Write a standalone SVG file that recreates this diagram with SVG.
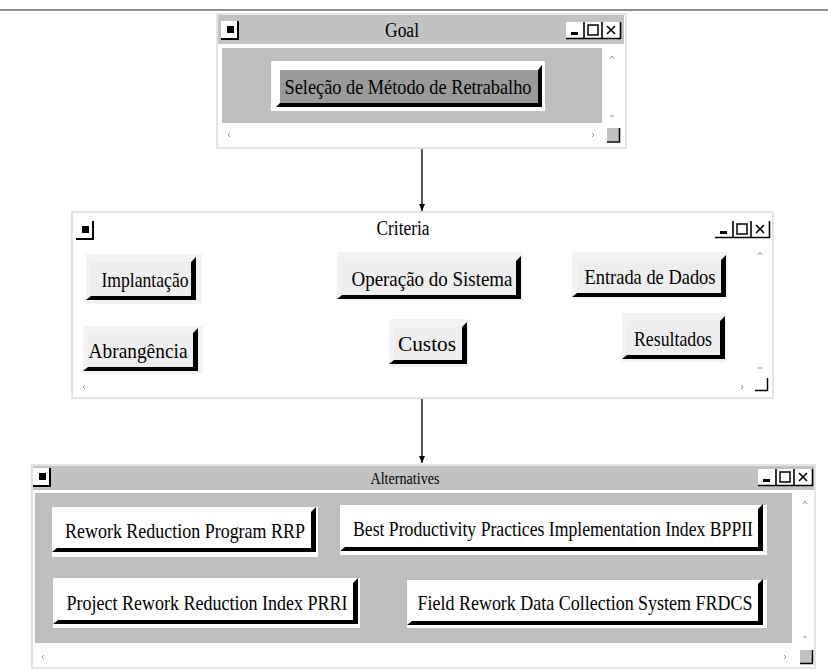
<svg xmlns="http://www.w3.org/2000/svg" width="828" height="670" viewBox="0 0 828 670">
<style>
text{font-family:"Liberation Serif","Times New Roman",serif;fill:#000;}
.title{font-size:20px;text-anchor:middle;}
.btn{font-size:21px;text-anchor:middle;}
.btnL{font-size:21px;text-anchor:middle;}
.win{fill:#fff;stroke:#e4e4e4;stroke-width:2;}
.bar{fill:#c2c2c2;}
.content{fill:#bfbfbf;}
.shadow{fill:#000;}
.haloW{fill:#fff;}
.haloL{fill:#f3f3f3;}
.faceG{fill:#9a9a9a;}
.faceL{fill:#eeeeee;}
.faceW{fill:#fff;}
.mark{fill:none;stroke:#999;stroke-width:1;}
.conn{stroke:#000;stroke-width:1.3;fill:none;}
</style>
<defs>
<marker id="ah" markerWidth="8" markerHeight="8" refX="7" refY="4" orient="auto" markerUnits="userSpaceOnUse">
<path d="M0,1 L7,4 L0,7 Z" fill="#000"/>
</marker>
<g id="sysbtn">
<rect x="0" y="0" width="17" height="17" fill="#fff"/>
<path d="M17,0 V18 H0" fill="none" stroke="#000" stroke-width="2"/>
<rect x="6" y="5" width="7" height="7" fill="#000"/>
</g>
<g id="ctrls">
<rect x="0" y="0" width="54" height="16" fill="#fff"/>
<path d="M0,16.5 H55 M18,0 V17 M36,0 V17 M54.5,0 V17" fill="none" stroke="#000" stroke-width="1.6"/>
<rect x="5" y="10" width="7" height="3" fill="#000"/>
<rect x="22" y="3" width="10" height="10" fill="none" stroke="#000" stroke-width="1.5"/>
<path d="M41,4 L49,12 M49,4 L41,12" fill="none" stroke="#000" stroke-width="1.6"/>
</g>
</defs>

<line x1="0" y1="10" x2="828" y2="10" stroke="#6a6a6a" stroke-width="1.6"/>

<g id="goal-window">
<rect class="win" x="217" y="14" width="409" height="134"/>
<rect class="bar" x="218" y="15" width="406" height="29"/>
<use href="#sysbtn" x="221" y="21"/>
<text class="title" x="402" y="37" textLength="34" lengthAdjust="spacingAndGlyphs">Goal</text>
<use href="#ctrls" x="566" y="22"/>
<rect class="content" x="222" y="48" width="380" height="75"/>
<path class="mark" d="M610,59 L612,56 L614,59"/>
<path class="mark" d="M610,116 L614,116"/>
<path class="mark" d="M230,133 L228,135 L230,137"/>
<path class="mark" d="M592,133 L594,135 L592,137"/>
<rect x="607" y="128" width="12" height="13" fill="#c0c0c0"/>
<path d="M619.5,128 V142 H607" fill="none" stroke="#000" stroke-width="1.5"/>
</g>

<g id="goal-node">
<rect class="haloW" x="271" y="61" width="274" height="50"/>
<polygon class="shadow" points="538,70 542,65 542,107 276,107 280,103"/>
<rect class="faceG" x="280" y="70" width="258" height="33"/>
<text class="btnL" x="408" y="93.5" textLength="247" lengthAdjust="spacingAndGlyphs">Seleção de Método de Retrabalho</text>
</g>

<g id="criteria-window">
<rect class="win" x="72" y="212" width="701" height="186"/>
<use href="#sysbtn" x="76" y="221"/>
<text class="title" x="403" y="235" textLength="53" lengthAdjust="spacingAndGlyphs">Criteria</text>
<use href="#ctrls" x="715" y="221"/>
<path class="mark" d="M758,255 L760,252 L762,255"/>
<path class="mark" d="M758,368 L762,368"/>
<path class="mark" d="M85,385 L83,387 L85,389"/>
<path class="mark" d="M741,385 L743,387 L741,389"/>
<path d="M767.5,378 V390.5 H755" fill="none" stroke="#000" stroke-width="1.5"/>
</g>

<g id="crit-implantacao">
<rect class="haloL" x="86" y="254" width="116" height="50"/>
<polygon class="shadow" points="191,262 196,257 196,300 86,300 91,296"/>
<rect class="faceL" x="91" y="262" width="100" height="34"/>
<text class="btn" x="145" y="286.5" textLength="87" lengthAdjust="spacingAndGlyphs">Implantação</text>
</g>
<g id="crit-operacao">
<rect class="haloL" x="337" y="252" width="186" height="49"/>
<polygon class="shadow" points="516,261 521,256 521,299 337,299 342,295"/>
<rect class="faceL" x="342" y="261" width="174" height="34"/>
<text class="btn" x="432" y="285.5" textLength="161" lengthAdjust="spacingAndGlyphs">Operação do Sistema</text>
</g>
<g id="crit-entrada">
<rect class="haloL" x="572" y="252" width="156" height="47"/>
<polygon class="shadow" points="721,260 726,255 726,297 572,297 577,293"/>
<rect class="faceL" x="577" y="260" width="144" height="33"/>
<text class="btn" x="650" y="284" textLength="131" lengthAdjust="spacingAndGlyphs">Entrada de Dados</text>
</g>
<g id="crit-abrangencia">
<rect class="haloL" x="83" y="326" width="120" height="48"/>
<polygon class="shadow" points="193,333 198,328 198,371 83,371 88,367"/>
<rect class="faceL" x="88" y="333" width="105" height="34"/>
<text class="btn" x="138" y="357.5" textLength="99" lengthAdjust="spacingAndGlyphs">Abrangência</text>
</g>
<g id="crit-custos">
<rect class="haloL" x="389" y="319" width="79" height="48"/>
<polygon class="shadow" points="462,327 467,322 467,364 389,364 394,360"/>
<rect class="faceL" x="394" y="327" width="68" height="33"/>
<text class="btn" x="427" y="351" textLength="58" lengthAdjust="spacingAndGlyphs">Custos</text>
</g>
<g id="crit-resultados">
<rect class="haloL" x="622" y="313" width="104" height="49"/>
<polygon class="shadow" points="720,321 725,316 725,359 622,359 627,355"/>
<rect class="faceL" x="627" y="321" width="93" height="34"/>
<text class="btn" x="673" y="345.5" textLength="78" lengthAdjust="spacingAndGlyphs">Resultados</text>
</g>

<g id="alternatives-window">
<rect class="win" x="32" y="465" width="783" height="203"/>
<rect class="bar" x="33" y="466" width="781" height="24"/>
<use href="#sysbtn" x="33" y="468"/>
<text x="405" y="484" style="font-size:16px;text-anchor:middle;" textLength="69" lengthAdjust="spacingAndGlyphs">Alternatives</text>
<use href="#ctrls" x="758" y="469"/>
<rect class="content" x="35" y="493" width="757" height="150"/>
<path class="mark" d="M803,504 L805,501 L807,504"/>
<path class="mark" d="M803,637 L807,637"/>
<path class="mark" d="M44,655 L42,657 L44,659"/>
<path class="mark" d="M784,655 L786,657 L784,659"/>
<rect x="800" y="650" width="12" height="13" fill="#c0c0c0"/>
<path d="M812.5,650 V663.5 H800" fill="none" stroke="#000" stroke-width="1.5"/>
</g>

<g id="alt-rrp">
<rect class="haloW" x="52" y="507" width="266" height="50"/>
<polygon class="shadow" points="311,512 316,507 316,552 52,552 57,548"/>
<rect class="faceW" x="57" y="512" width="254" height="36"/>
<text class="btnL" x="185" y="538" textLength="240" lengthAdjust="spacingAndGlyphs">Rework Reduction Program RRP</text>
</g>
<g id="alt-bppii">
<rect class="haloW" x="340" y="505" width="427" height="50"/>
<polygon class="shadow" points="758,509 763,504 763,551 340,551 345,547"/>
<rect class="faceW" x="345" y="509" width="413" height="38"/>
<text class="btnL" x="553" y="536" textLength="400" lengthAdjust="spacingAndGlyphs">Best Productivity Practices Implementation Index BPPII</text>
</g>
<g id="alt-prri">
<rect class="haloW" x="53" y="578" width="307" height="50"/>
<polygon class="shadow" points="353,583 358,578 358,624 53,624 58,620"/>
<rect class="faceW" x="58" y="583" width="295" height="37"/>
<text class="btnL" x="207" y="609.5" textLength="281" lengthAdjust="spacingAndGlyphs">Project Rework Reduction Index PRRI</text>
</g>
<g id="alt-frdcs">
<rect class="haloW" x="407" y="580" width="360" height="48"/>
<polygon class="shadow" points="758,584 763,579 763,625 407,625 412,621"/>
<rect class="faceW" x="412" y="584" width="346" height="37"/>
<text class="btnL" x="585" y="610" textLength="335" lengthAdjust="spacingAndGlyphs">Field Rework Data Collection System FRDCS</text>
</g>

<g id="connectors">
<line class="conn" x1="422" y1="149" x2="422" y2="211" marker-end="url(#ah)"/>
<line class="conn" x1="422" y1="399" x2="422" y2="463" marker-end="url(#ah)"/>
</g>
</svg>
